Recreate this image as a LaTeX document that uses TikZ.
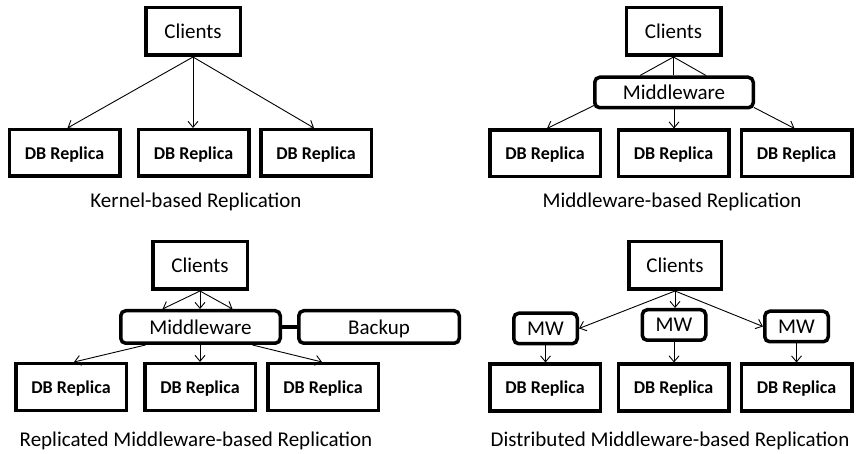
\documentclass[tikz,border=0pt]{standalone}
\usepackage{fontspec}
\setmainfont{Carlito}
\usetikzlibrary{arrows.meta,calc}
\begin{document}
\begin{tikzpicture}[x=1pt,y=-1pt,
  base/.style={draw, line width=3.5pt, inner sep=0pt, text depth=0pt, align=center},
  clientbox/.style={base, minimum width=94.5pt, minimum height=47.5pt, font=\fontsize{21}{25}\selectfont},
  dbbox/.style={base, minimum width=110.5pt, minimum height=46.5pt, font=\fontsize{18}{22}\selectfont\bfseries},
  mwbox/.style={base, rounded corners=5pt, minimum width=158.5pt, minimum height=30.5pt, font=\fontsize{21}{25}\selectfont},
  smallmw/.style={base, rounded corners=5pt, minimum width=63.5pt, minimum height=30.5pt, font=\fontsize{21}{25}\selectfont},
  caption/.style={anchor=base, inner sep=0pt, font=\fontsize{21}{25}\selectfont},
  arr/.style={line width=0.9pt, -{Straight Barb[length=6pt,width=10pt]}},
  plain/.style={line width=0.9pt},
  link/.style={line width=3.5pt}]
\useasboundingbox (0,0) rectangle (857,454);

% ---------- Panel 1: Kernel-based ----------
\node[clientbox] (c1) at (193,31.5) {Clients};
\node[dbbox] (d11) at (64.5,153) {DB Replica};
\node[dbbox] (d12) at (193.5,153) {DB Replica};
\node[dbbox] (d13) at (316,153) {DB Replica};
\node[caption] (cap1) at (196,208) {Kernel-based Replication};
\draw[arr] (c1.south) -- ($(d11.north)+(3,0)$);
\draw[arr] (c1.south) -- (c1.south |- d12.north);
\draw[arr] (c1.south) -- ($(d13.north)+(-2,0)$);

% ---------- Panel 2: Middleware-based ----------
\node[clientbox] (c2) at (673.5,31.5) {Clients};
\node[mwbox] (m2) at (674,92.5) {Middleware};
\node[dbbox] (d21) at (545,153.5) {DB Replica};
\node[dbbox] (d22) at (673.5,153.5) {DB Replica};
\node[dbbox] (d23) at (796.5,153.5) {DB Replica};
\node[caption] (cap2) at (672,208) {Middleware-based Replication};
\draw[plain] (c2.south) -- ($(m2.north)+(-34,0)$);
\draw[plain] (c2.south) -- (c2.south |- m2.north);
\draw[plain] (c2.south) -- ($(m2.north)+(32,0)$);
\draw[arr] ($(m2.south west)+(1,-4)$) -- ($(d21.north)+(2,0)$);
\draw[arr] (m2.south) -- (m2.south |- d22.north);
\draw[arr] ($(m2.south east)+(-1,-2)$) -- ($(d23.north)+(-2,0)$);

% ---------- Panel 3: Replicated Middleware-based ----------
\node[clientbox] (c3) at (200,265.5) {Clients};
\node[mwbox, minimum width=159.5pt, minimum height=32.5pt] (m3) at (200.5,327) {Middleware};
\node[mwbox, minimum width=160.5pt, minimum height=32.5pt] (b3) at (379,327) {Backup};
\node[dbbox] (d31) at (71,387) {DB Replica};
\node[dbbox] (d32) at (200,387) {DB Replica};
\node[dbbox] (d33) at (323,387) {DB Replica};
\node[caption] (cap3) at (196,446) {Replicated Middleware-based Replication};
\draw[link] (m3.east) -- (b3.west);
\draw[arr] (c3.south) -- ($(m3.north)+(-38,0)$);
\draw[arr] (c3.south) -- (c3.south |- m3.north);
\draw[arr] (c3.south) -- ($(m3.north)+(32,0)$);
\draw[arr] ($(m3.south)+(-55,0)$) -- ($(d31.north)+(3,0)$);
\draw[arr] (d32.north |- m3.south) -- (d32.north);
\draw[arr] ($(m3.south)+(52,0)$) -- ($(d33.north)+(-1,0)$);

% ---------- Panel 4: Distributed Middleware-based ----------
\node[clientbox, minimum width=92.5pt] (c4) at (675,265.5) {Clients};
\node[smallmw] (w1) at (545.5,328.5) {MW};
\node[smallmw] (w2) at (674,325) {MW};
\node[smallmw] (w3) at (796.5,326.5) {MW};
\node[dbbox] (d41) at (545,387.5) {DB Replica};
\node[dbbox] (d42) at (673.5,387.5) {DB Replica};
\node[dbbox] (d43) at (796.5,387.5) {DB Replica};
\node[caption] (cap4) at (670,446) {Distributed Middleware-based Replication};
\draw[arr] (c4.south) -- (w1.east);
\draw[arr] (c4.south) -- (c4.south |- w2.north);
\draw[arr] (c4.south) -- (w3.west);
\draw[arr] (w1.south) -- (w1.south |- d41.north);
\draw[arr] (w2.south) -- (w2.south |- d42.north);
\draw[arr] (w3.south) -- (w3.south |- d43.north);
\end{tikzpicture}
\end{document}
